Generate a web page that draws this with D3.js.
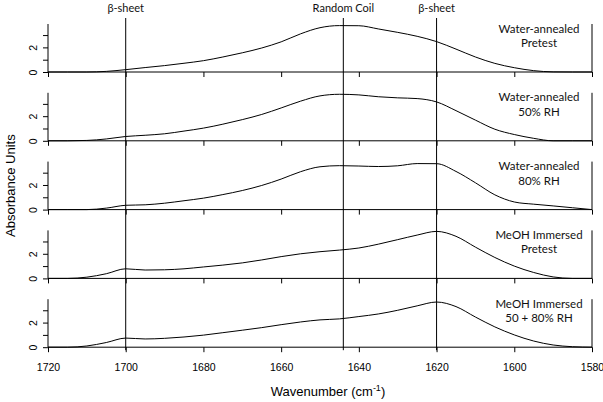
<!DOCTYPE html>
<html>
<head>
<meta charset="utf-8">
<script src="https://cdnjs.cloudflare.com/ajax/libs/d3/7.8.5/d3.min.js"></script>
<style>
    body { margin: 0; background: #fff; }
    svg { display: block; }
</style>
</head>
<body>
<div id="chart"></div>
<script>
// wavenumber grid (cm-1) every 5 units
let wavenumbers = [1720, 1715, 1710, 1705, 1700, 1695, 1690, 1685, 1680, 1675, 1670, 1665, 1660, 1655, 1650,
    1645, 1640, 1635, 1630, 1625, 1620, 1615, 1610, 1605, 1600, 1595, 1590, 1585, 1580];

let waterPretest = [0, 0, 0, 0.05, 0.19, 0.36, 0.52, 0.71, 0.92, 1.22, 1.56, 1.95, 2.45, 3.1, 3.6,
    3.77, 3.76, 3.5, 3.22, 2.9, 2.47, 1.86, 1.22, 0.7, 0.35, 0.11, 0.01, 0, 0];
let water50 = [0, 0, 0.03, 0.15, 0.35, 0.45, 0.57, 0.79, 1.03, 1.35, 1.72, 2.14, 2.67, 3.22, 3.65,
    3.78, 3.73, 3.58, 3.49, 3.43, 3.16, 2.45, 1.68, 0.94, 0.51, 0.2, 0, 0, 0];
let water80 = [0, 0, 0, 0.12, 0.35, 0.39, 0.52, 0.72, 0.93, 1.22, 1.55, 1.96, 2.48, 3.08, 3.48,
    3.57, 3.54, 3.5, 3.56, 3.74, 3.73, 3.1, 2.18, 1.2, 0.62, 0.44, 0.3, 0.15, 0];
let meohPretest = [0, 0, 0.1, 0.38, 0.78, 0.68, 0.7, 0.78, 0.93, 1.08, 1.26, 1.5, 1.77, 2.0, 2.17,
    2.3, 2.47, 2.78, 3.15, 3.52, 3.82, 3.42, 2.54, 1.7, 1.0, 0.48, 0.12, 0, 0];
let meoh5080 = [0, 0, 0.1, 0.38, 0.74, 0.67, 0.72, 0.83, 0.98, 1.18, 1.38, 1.59, 1.83, 2.05, 2.22,
    2.3, 2.49, 2.7, 3.0, 3.36, 3.67, 3.3, 2.45, 1.65, 1.0, 0.5, 0.18, 0.04, 0];

let panelSeries = [waterPretest, water50, water80, meohPretest, meoh5080];
let panelLabels = [
    ["Water-annealed", "Pretest"],
    ["Water-annealed", "50% RH"],
    ["Water-annealed", "80% RH"],
    ["MeOH Immersed", "Pretest"],
    ["MeOH Immersed", "50 + 80% RH"]
];

// band markers across all panels
let markerPositions = [1700, 1644, 1620];
let markerLabels = ["β-sheet", "Random Coil", "β-sheet"];

let xTicks = [1720, 1700, 1680, 1660, 1640, 1620, 1600, 1580];
let yTicks = [0, 1, 2, 3];
let yLabelled = [0, 2];

let width = 603;
let height = 402;

let plotLeft = 48;
let plotRight = 592;
let firstBottom = 72;
let panelStep = 68.8;
let panelHeight = 48;

let svg = d3.select('#chart').append('svg')
    .attr('width', width)
    .attr('height', height)
    .style('font-family', 'Liberation Sans, Arial, sans-serif');

let xScale = d3.scaleLinear()
    .domain([1720, 1580])
    .range([plotLeft, plotRight]);

let lastBottom = firstBottom + panelStep * (panelSeries.length - 1);

panelSeries.forEach(function (values, p) {
    let bottom = firstBottom + panelStep * p;
    let top = bottom - panelHeight;

    let yScale = d3.scaleLinear()
        .domain([0, 3.9])
        .range([bottom, top]);

    let g = svg.append('g');

    // spectrum line
    let line = d3.line()
        .x(function (d, i) { return xScale(wavenumbers[i]); })
        .y(function (d) { return yScale(d); })
        .curve(d3.curveMonotoneX);

    g.append('path')
        .datum(values)
        .attr('d', line)
        .attr('fill', 'none')
        .attr('stroke', '#000')
        .attr('stroke-width', 1);

    // open-topped box
    g.append('path')
        .attr('d', 'M' + plotLeft + ',' + top + 'V' + bottom + 'H' + plotRight + 'V' + top)
        .attr('fill', 'none')
        .attr('stroke', '#000')
        .attr('stroke-width', 1);

    let xAxis = d3.axisBottom(xScale)
        .tickValues(xTicks)
        .tickSize(5)
        .tickSizeOuter(0)
        .tickFormat(function (d) {
            return p === panelSeries.length - 1 ? d : '';
        });

    let xg = g.append('g')
        .attr('transform', 'translate(0,' + bottom + ')')
        .call(xAxis);
    xg.select('.domain').remove();
    xg.selectAll('text')
        .attr('dy', '1.55em')
        .style('font-size', '10.5px')
        .style('font-family', 'Liberation Sans, Arial, sans-serif');

    let yAxis = d3.axisLeft(yScale)
        .tickValues(yTicks)
        .tickSize(5)
        .tickSizeOuter(0)
        .tickFormat(function (d) {
            return yLabelled.indexOf(d) >= 0 ? d : '';
        });

    let yg = g.append('g')
        .attr('transform', 'translate(' + plotLeft + ',0)')
        .call(yAxis);
    yg.select('.domain').remove();
    yg.selectAll('text')
        .attr('x', null)
        .attr('dy', null)
        .attr('text-anchor', 'middle')
        .attr('transform', 'translate(-11,0) rotate(-90)')
        .style('font-size', '10.5px')
        .style('font-family', 'Liberation Sans, Arial, sans-serif');

    // panel caption
    let caption = g.append('text')
        .attr('x', 539)
        .attr('text-anchor', 'middle')
        .attr('fill', '#111')
        .style('font-family', 'Lato, Open Sans, sans-serif')
        .style('font-size', '11.5px');
    caption.append('tspan')
        .attr('x', 539)
        .attr('y', top + 8.5)
        .text(panelLabels[p][0]);
    caption.append('tspan')
        .attr('x', 539)
        .attr('y', top + 23)
        .text(panelLabels[p][1]);
});

// vertical band markers
svg.selectAll('.marker')
    .data(markerPositions)
    .enter().append('line')
    .attr('class', 'marker')
    .attr('x1', function (d) { return xScale(d); })
    .attr('x2', function (d) { return xScale(d); })
    .attr('y1', 18)
    .attr('y2', lastBottom + 3)
    .attr('stroke', '#000')
    .attr('stroke-width', 1);

svg.selectAll('.marker-label')
    .data(markerPositions)
    .enter().append('text')
    .attr('class', 'marker-label')
    .attr('x', function (d) { return xScale(d); })
    .attr('y', 12)
    .attr('text-anchor', 'middle')
    .attr('fill', '#111')
    .style('font-family', 'Lato, Open Sans, sans-serif')
    .style('font-size', '11px')
    .text(function (d, i) { return markerLabels[i]; });

// axis titles
let xTitle = svg.append('text')
    .attr('x', (plotLeft + plotRight) / 2 + 8)
    .attr('y', 396)
    .attr('text-anchor', 'middle')
    .style('font-size', '13px');
xTitle.append('tspan').text('Wavenumber (cm');
xTitle.append('tspan').attr('dy', -5).style('font-size', '9px').text('-1');
xTitle.append('tspan').attr('dy', 5).text(')');

svg.append('text')
    .attr('transform', 'translate(15,' + ((firstBottom - panelHeight + lastBottom) / 2) + ') rotate(-90)')
    .attr('text-anchor', 'middle')
    .style('font-size', '13px')
    .text('Absorbance Units');
</script>
</body>
</html>
